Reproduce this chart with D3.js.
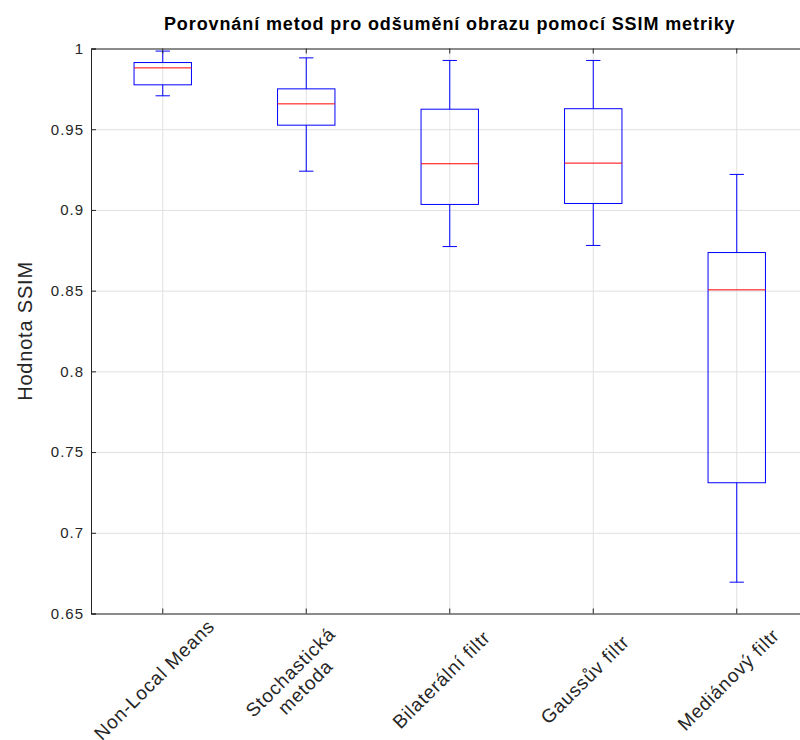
<!DOCTYPE html>
<html>
<head>
<meta charset="utf-8">
<title>SSIM boxplot</title>
<style>
body { margin: 0; background: #fff; }
svg { font-family: "Liberation Sans", Arial, sans-serif; }
.grid line { stroke: #e0e0e0; stroke-width: 1px; }
.grid .domain { display: none; }
.axis .domain { stroke: #262626; }
.axis line { stroke: #262626; }
.axis text { fill: #262626; font-size: 15px; letter-spacing: 1px; }
</style>
</head>
<body>
<script src="https://cdnjs.cloudflare.com/ajax/libs/d3/7.8.5/d3.min.js"></script>
<script>

var categories = ["Non-Local Means", "Stochastická metoda", "Bilaterální filtr", "Gaussův filtr", "Mediánový filtr"];
var tickLines = [["Non-Local Means"], ["Stochastická", "metoda"], ["Bilaterální filtr"], ["Gaussův filtr"], ["Mediánový filtr"]];

// box statistics
var whiskerLow  = [0.9707, 0.9240, 0.8773, 0.8780, 0.6694];
var q1          = [0.9775, 0.9525, 0.9034, 0.9040, 0.7310];
var medians     = [0.9880, 0.9657, 0.9286, 0.9290, 0.8505];
var q3          = [0.9913, 0.9750, 0.9624, 0.9627, 0.8736];
var whiskerHigh = [0.9984, 0.9942, 0.9926, 0.9926, 0.9220];

var yTicks = [0.65, 0.7, 0.75, 0.8, 0.85, 0.9, 0.95, 1];
var yTickLabels = ["0.65", "0.7", "0.75", "0.8", "0.85", "0.9", "0.95", "1"];

var width = 800, height = 740;
var plotLeft = 91, plotRight = 808.5, plotTop = 48.5, plotBottom = 613.5;

var svg = d3.select("body").append("svg")
    .attr("width", width)
    .attr("height", height);

var x = d3.scaleBand()
    .domain(categories)
    .range([plotLeft, plotRight])
    .padding(0);

var y = d3.scaleLinear()
    .domain([0.65, 1])
    .range([plotBottom, plotTop]);

var bw = x.bandwidth();
function cx(c) { return x(c) + bw / 2; }

// grid
svg.append("g")
    .attr("class", "grid")
    .attr("transform", "translate(" + plotLeft + ",0)")
    .call(d3.axisLeft(y).tickValues(yTicks).tickSize(-(plotRight - plotLeft)).tickFormat(""));

svg.append("g")
    .attr("class", "grid")
    .attr("transform", "translate(0," + plotBottom + ")")
    .call(d3.axisBottom(x).tickSize(-(plotBottom - plotTop)).tickFormat(""));

// boxes
var data = categories.map(function(c, i) {
  return { cat: c, lo: whiskerLow[i], q1: q1[i], med: medians[i], q3: q3[i], hi: whiskerHigh[i] };
});

var boxW = bw * 0.4, capW = bw * 0.05;
var box = svg.append("g").selectAll("g")
    .data(data)
  .enter().append("g");

box.append("line")
    .attr("x1", function(d) { return cx(d.cat); })
    .attr("x2", function(d) { return cx(d.cat); })
    .attr("y1", function(d) { return y(d.hi); })
    .attr("y2", function(d) { return y(d.q3); })
    .attr("stroke", "#0000ff");

box.append("line")
    .attr("x1", function(d) { return cx(d.cat); })
    .attr("x2", function(d) { return cx(d.cat); })
    .attr("y1", function(d) { return y(d.q1); })
    .attr("y2", function(d) { return y(d.lo); })
    .attr("stroke", "#0000ff");

["hi", "lo"].forEach(function(k) {
  box.append("line")
      .attr("x1", function(d) { return cx(d.cat) - capW; })
      .attr("x2", function(d) { return cx(d.cat) + capW; })
      .attr("y1", function(d) { return y(d[k]); })
      .attr("y2", function(d) { return y(d[k]); })
      .attr("stroke", "#0000ff");
});

box.append("rect")
    .attr("x", function(d) { return cx(d.cat) - boxW / 2; })
    .attr("width", boxW)
    .attr("y", function(d) { return y(d.q3); })
    .attr("height", function(d) { return y(d.q1) - y(d.q3); })
    .attr("fill", "none")
    .attr("stroke", "#0000ff");

box.append("line")
    .attr("x1", function(d) { return cx(d.cat) - boxW / 2; })
    .attr("x2", function(d) { return cx(d.cat) + boxW / 2; })
    .attr("y1", function(d) { return y(d.med); })
    .attr("y2", function(d) { return y(d.med); })
    .attr("stroke", "#ff0000");

// axes (ticks point inward)
svg.append("g")
    .attr("class", "axis")
    .attr("transform", "translate(" + plotLeft + ",0)")
    .call(d3.axisLeft(y).tickValues(yTicks).tickSize(-5).tickPadding(7)
      .tickFormat(function(d, i) { return yTickLabels[i]; }));

svg.append("g")
    .attr("class", "axis")
    .attr("transform", "translate(0," + plotBottom + ")")
    .call(d3.axisBottom(x).tickSize(-5).tickFormat(""));

svg.append("g")
    .attr("class", "axis")
    .attr("transform", "translate(0," + plotTop + ")")
    .call(d3.axisTop(x).tickSize(-5).tickFormat(""));

// rotated category labels
var lab = svg.append("g").selectAll("text")
    .data(categories)
  .enter().append("text")
    .attr("transform", function(d) { return "translate(" + (cx(d) - 8) + ",680) rotate(-45)"; })
    .attr("text-anchor", "middle")
    .attr("fill", "#262626")
    .style("font-size", "19px")
    .style("letter-spacing", "0.8px");

lab.each(function(d, i) {
  var lines = tickLines[i], n = lines.length;
  d3.select(this).selectAll("tspan")
      .data(lines)
    .enter().append("tspan")
      .attr("x", 0)
      .attr("y", function(t, j) { return (j - (n - 1) / 2) * 21 + 6; })
      .text(function(t) { return t; });
});

// y label
svg.append("text")
    .attr("transform", "translate(32," + ((plotTop + plotBottom) / 2) + ") rotate(-90)")
    .attr("text-anchor", "middle")
    .attr("fill", "#262626")
    .style("font-size", "20px")
    .style("letter-spacing", "0.8px")
    .text("Hodnota SSIM");

// title
svg.append("text")
    .attr("x", (plotLeft + plotRight) / 2)
    .attr("y", 30)
    .attr("text-anchor", "middle")
    .style("font-size", "18px")
    .style("font-weight", "bold")
    .style("letter-spacing", "0.9px")
    .text("Porovnání metod pro odšumění obrazu pomocí SSIM metriky");

</script>
</body>
</html>
